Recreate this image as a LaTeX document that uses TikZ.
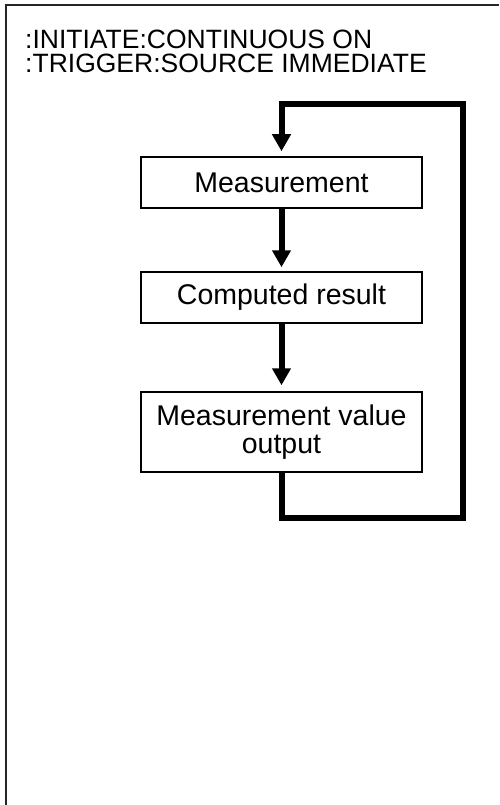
\documentclass[tikz,border=0pt]{standalone}
\usepackage{fontspec}
\setmainfont{Liberation Sans}
\usetikzlibrary{arrows.meta}
\begin{document}
\begin{tikzpicture}[x=1pt,y=-1pt,
  stepbox/.style={draw, line width=1.5pt, minimum width=281pt, inner sep=0pt, align=center,
    font=\fontsize{28.5}{28}\selectfont},
  flow/.style={line width=6pt, line join=miter, -{Triangle[length=17pt,width=18pt]}},
  hdr/.style={anchor=north west, inner sep=0pt, align=left, font=\fontsize{26.5}{24}\selectfont}]
\useasboundingbox (0,0) rectangle (499,805);
\draw[line width=2pt, black!85] (5.5,805) -- (5.5,5.5) -- (499,5.5);
\node[hdr] (h1) at (25,29.3) {:INITIATE:CONTINUOUS ON\\:TRIGGER:SOURCE IMMEDIATE};
\node[stepbox, minimum height=51pt] (box1) at (281.5,182.5) {Measurement};
\node[stepbox, minimum height=51pt] (box2) at (281.5,297.5) {Computed result};
\node[stepbox, minimum height=80pt] (box3) at (281.5,432) {Measurement value\\output};
\coordinate (br) at (463,518);
\coordinate (tr) at (463,103.7);
\draw[flow, shorten >=4pt] (box1.south) -- (box2.north);
\draw[flow, shorten >=6pt] (box2.south) -- (box3.north);
\draw[flow, shorten >=5pt] (box3.south) |- (br) -- (tr) -| (box1.north);
\end{tikzpicture}
\end{document}
